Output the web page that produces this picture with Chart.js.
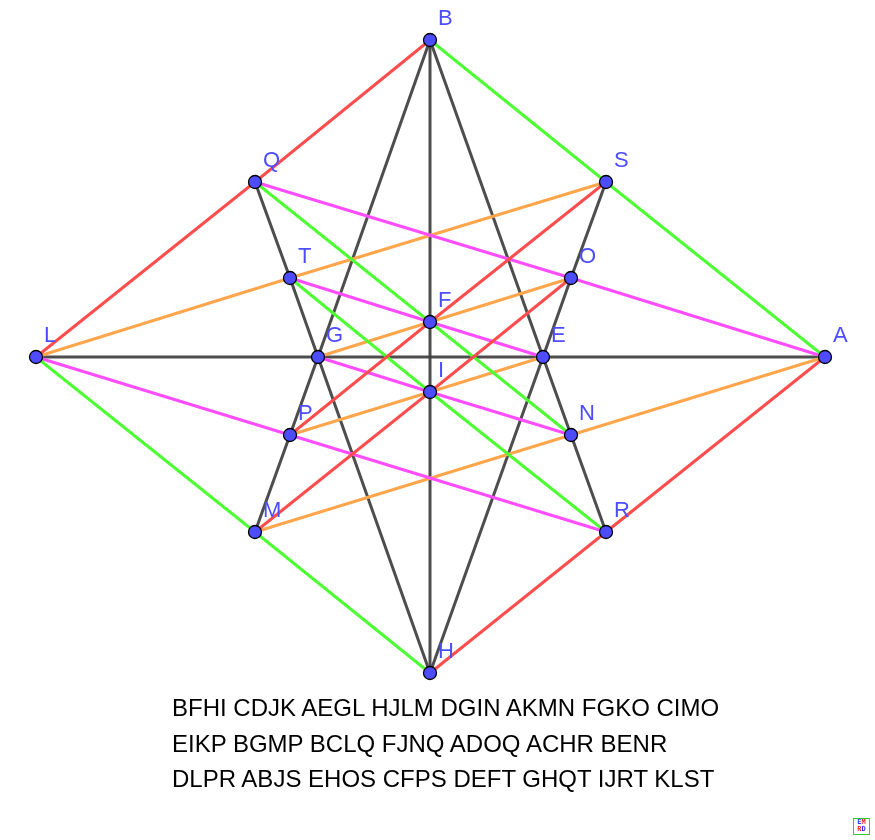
<!DOCTYPE html>
<html>
<head>
<meta charset="utf-8">
<title>Configuration</title>
<script src="https://cdn.jsdelivr.net/npm/chart.js@4.4.1/dist/chart.umd.min.js"></script>
<style>
  html, body { margin: 0; padding: 0; background: #fff; }
  #wrap { position: relative; width: 875px; height: 840px; overflow: hidden; }
  #fig { position: absolute; left: 0; top: 0; }
  .words { position: absolute; left: 172px; font: 24px Arial, "Liberation Sans", sans-serif; color: #000; white-space: nowrap; line-height: 28px; }
  #logo { position: absolute; left: 853px; top: 818px; width: 15px; height: 15px; border: 1px solid #3c3; font: bold 7px "DejaVu Sans Mono", monospace; line-height: 7px; text-align: center; }
</style>
</head>
<body>
<div id="wrap">
  <canvas id="fig" width="875" height="840"></canvas>
  <div class="words" style="top:694px">BFHI CDJK AEGL HJLM DGIN AKMN FGKO CIMO</div>
  <div class="words" style="top:730px">EIKP BGMP BCLQ FJNQ ADOQ ACHR BENR</div>
  <div class="words" style="top:765px">DLPR ABJS EHOS CFPS DEFT GHQT IJRT KLST</div>
  <div id="logo"><span style="color:#33f">E</span><span style="color:#e22">M</span><br><span style="color:#e22">R</span><span style="color:#33f">D</span></div>
</div>
<script>
// points of the figure (origin at the middle, y up)
var pointNames = ['B', 'Q', 'S', 'T', 'O', 'F', 'L', 'G', 'E', 'A', 'I', 'P', 'N', 'M', 'R', 'H'];
var pointX     = [  0, -175, 176, -140, 141,  0, -394, -112, 113, 395,  0, -140, 141, -175, 176,   0];
var pointY     = [317,  175, 175,   79,  79, 35,    0,    0,   0,   0, -35,  -78, -78, -175, -175, -316];

// lines, each one goes through the named points in order
var darkLines    = [['B', 'H'], ['L', 'A'], ['B', 'G', 'P', 'M'], ['B', 'E', 'N', 'R'], ['H', 'G', 'T', 'Q'], ['H', 'E', 'O', 'S']];
var redLines     = [['L', 'Q', 'B'], ['H', 'R', 'A'], ['M', 'I', 'O'], ['P', 'F', 'S']];
var greenLines   = [['B', 'S', 'A'], ['L', 'M', 'H'], ['Q', 'F', 'N'], ['T', 'I', 'R']];
var magentaLines = [['Q', 'O', 'A'], ['T', 'F', 'E'], ['L', 'P', 'R'], ['G', 'I', 'N']];
var orangeLines  = [['L', 'T', 'S'], ['M', 'N', 'A'], ['G', 'F', 'O'], ['P', 'I', 'E']];

function pt(name) {
  var i = pointNames.indexOf(name);
  return { x: pointX[i], y: pointY[i], name: name };
}

var datasets = [];

// lower order is drawn on top
function addLines(lines, color, order) {
  lines.forEach(function(line) {
    datasets.push({
      data: line.map(pt),
      showLine: true,
      borderColor: color,
      borderWidth: 3,
      pointRadius: 0,
      pointHoverRadius: 0,
      order: order
    });
  });
}

addLines(darkLines, 'rgba(64,64,64,0.93)', 5);
addLines(redLines, '#ff4d4d', 1);
addLines(greenLines, '#4dff33', 2);
addLines(magentaLines, '#ff4dff', 3);
addLines(orangeLines, '#ffa64d', 4);

// the points themselves on top
datasets.push({
  data: pointNames.map(pt),
  showLine: false,
  pointRadius: 6.5,
  pointHoverRadius: 6.5,
  pointBackgroundColor: '#4d4dff',
  pointBorderColor: '#000',
  pointBorderWidth: 1.3,
  order: 0
});

var pointLabels = {
  id: 'pointLabels',
  afterDatasetsDraw: function(chart) {
    var c = chart.ctx;
    var xs = chart.scales.x, ys = chart.scales.y;
    c.save();
    c.font = '22px Arial, "Liberation Sans", sans-serif';
    c.fillStyle = '#4d4dff';
    c.textBaseline = 'alphabetic';
    pointNames.forEach(function(n, i) {
      c.fillText(n, xs.getPixelForValue(pointX[i]) + 8, ys.getPixelForValue(pointY[i]) - 15);
    });
    c.restore();
  }
};

var ctx = document.getElementById('fig').getContext('2d');

var chart = new Chart(ctx, {
  type: 'scatter',
  data: { datasets: datasets },
  options: {
    responsive: false,
    animation: false,
    layout: { padding: 0, autoPadding: false },
    plugins: { legend: { display: false }, tooltip: { enabled: false } },
    scales: {
      x: { type: 'linear', min: -430, max: 445, display: false },
      y: { type: 'linear', min: -483, max: 357, display: false }
    }
  },
  plugins: [pointLabels]
});
</script>
</body>
</html>
